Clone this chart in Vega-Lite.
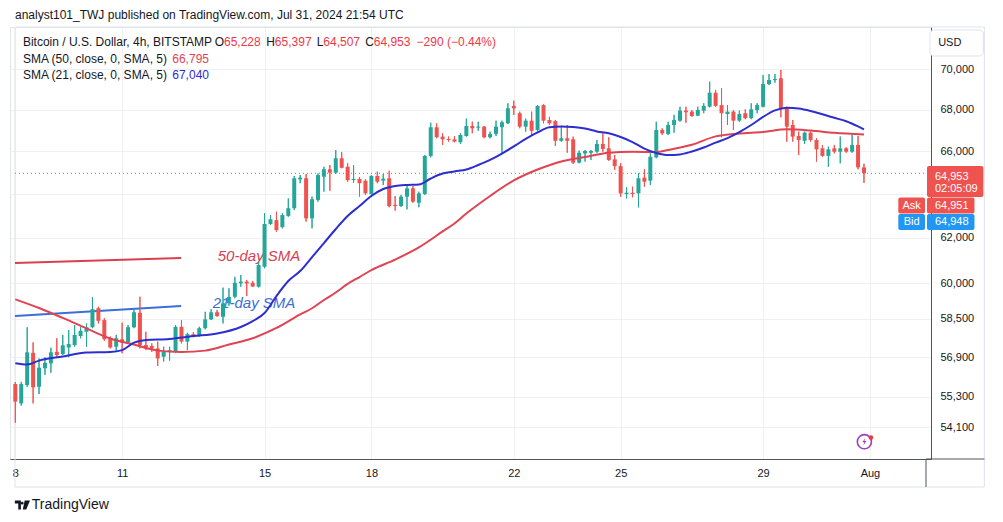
{
"$schema": "https://vega.github.io/schema/vega-lite/v6.json",
"width": 921, "height": 432,
"autosize": {"type": "none"},
"padding": {"left": 10, "top": 27, "right": 72, "bottom": 63},
"background": "#ffffff",
"config": {"view": {"stroke": "#e0e3eb"}, "font": "Liberation Sans", "text": {"font": "Liberation Sans"}},
"datasets": {
"one": [{}],
"candles": [
{"t":"2024-07-08T00:00Z","o":55810,"h":55890,"l":54280,"c":55110},
{"t":"2024-07-08T04:00Z","o":55040,"h":55900,"l":54950,"c":55810},
{"t":"2024-07-08T08:00Z","o":55770,"h":58140,"l":55700,"c":57100},
{"t":"2024-07-08T12:00Z","o":57080,"h":57510,"l":55040,"c":55680},
{"t":"2024-07-08T16:00Z","o":55700,"h":56850,"l":55410,"c":56470},
{"t":"2024-07-08T20:00Z","o":56450,"h":56900,"l":56180,"c":56670},
{"t":"2024-07-09T00:00Z","o":56650,"h":57290,"l":56270,"c":57100},
{"t":"2024-07-09T04:00Z","o":57120,"h":57680,"l":56920,"c":56990},
{"t":"2024-07-09T08:00Z","o":57030,"h":57820,"l":56990,"c":57390},
{"t":"2024-07-09T12:00Z","o":57300,"h":58020,"l":56900,"c":57440},
{"t":"2024-07-09T16:00Z","o":57400,"h":58230,"l":57330,"c":57820},
{"t":"2024-07-09T20:00Z","o":57770,"h":58140,"l":57680,"c":57990},
{"t":"2024-07-10T00:00Z","o":57950,"h":58300,"l":57330,"c":58140},
{"t":"2024-07-10T04:00Z","o":58140,"h":59410,"l":58100,"c":58900},
{"t":"2024-07-10T08:00Z","o":58940,"h":59000,"l":58300,"c":58410},
{"t":"2024-07-10T12:00Z","o":58440,"h":58520,"l":57580,"c":57640},
{"t":"2024-07-10T16:00Z","o":57680,"h":57750,"l":57260,"c":57300},
{"t":"2024-07-10T20:00Z","o":57330,"h":57820,"l":57120,"c":57680},
{"t":"2024-07-11T00:00Z","o":57640,"h":58330,"l":57060,"c":57500},
{"t":"2024-07-11T04:00Z","o":57510,"h":58230,"l":57470,"c":58140},
{"t":"2024-07-11T08:00Z","o":58140,"h":58870,"l":58100,"c":58770},
{"t":"2024-07-11T12:00Z","o":58750,"h":59430,"l":57260,"c":57400},
{"t":"2024-07-11T16:00Z","o":57400,"h":57950,"l":57190,"c":57260},
{"t":"2024-07-11T20:00Z","o":57360,"h":57470,"l":57120,"c":57260},
{"t":"2024-07-12T00:00Z","o":57260,"h":57540,"l":56540,"c":56850},
{"t":"2024-07-12T04:00Z","o":56920,"h":57330,"l":56720,"c":57120},
{"t":"2024-07-12T08:00Z","o":57120,"h":57330,"l":56760,"c":57190},
{"t":"2024-07-12T12:00Z","o":57120,"h":58230,"l":57080,"c":58160},
{"t":"2024-07-12T16:00Z","o":58160,"h":58440,"l":57470,"c":57540},
{"t":"2024-07-12T20:00Z","o":57540,"h":57910,"l":57190,"c":57850},
{"t":"2024-07-13T00:00Z","o":57850,"h":57930,"l":57720,"c":57750},
{"t":"2024-07-13T04:00Z","o":57770,"h":58160,"l":57750,"c":58100},
{"t":"2024-07-13T08:00Z","o":58100,"h":58790,"l":58050,"c":58470},
{"t":"2024-07-13T12:00Z","o":58470,"h":58900,"l":58440,"c":58770},
{"t":"2024-07-13T16:00Z","o":58770,"h":58870,"l":58580,"c":58610},
{"t":"2024-07-13T20:00Z","o":58580,"h":59820,"l":58300,"c":59150},
{"t":"2024-07-14T00:00Z","o":59150,"h":59790,"l":59040,"c":59420},
{"t":"2024-07-14T04:00Z","o":59430,"h":60290,"l":59360,"c":60030},
{"t":"2024-07-14T08:00Z","o":60010,"h":60370,"l":59860,"c":60080},
{"t":"2024-07-14T12:00Z","o":60080,"h":60150,"l":59460,"c":60000},
{"t":"2024-07-14T16:00Z","o":60030,"h":60110,"l":59850,"c":59870},
{"t":"2024-07-14T20:00Z","o":59860,"h":60950,"l":59830,"c":60800},
{"t":"2024-07-15T00:00Z","o":60730,"h":63110,"l":60660,"c":62620},
{"t":"2024-07-15T04:00Z","o":62620,"h":63030,"l":62580,"c":62840},
{"t":"2024-07-15T08:00Z","o":62800,"h":63180,"l":62280,"c":62350},
{"t":"2024-07-15T12:00Z","o":62480,"h":63110,"l":62430,"c":63030},
{"t":"2024-07-15T16:00Z","o":62990,"h":63790,"l":62950,"c":63340},
{"t":"2024-07-15T20:00Z","o":63340,"h":64830,"l":63260,"c":64720},
{"t":"2024-07-16T00:00Z","o":64670,"h":64870,"l":64490,"c":64750},
{"t":"2024-07-16T04:00Z","o":64720,"h":64920,"l":62730,"c":62880},
{"t":"2024-07-16T08:00Z","o":62880,"h":63870,"l":62430,"c":63750},
{"t":"2024-07-16T12:00Z","o":63720,"h":64950,"l":63640,"c":64870},
{"t":"2024-07-16T16:00Z","o":64790,"h":65260,"l":64100,"c":65140},
{"t":"2024-07-16T20:00Z","o":65140,"h":65340,"l":64140,"c":64980},
{"t":"2024-07-17T00:00Z","o":64980,"h":66050,"l":64920,"c":65660},
{"t":"2024-07-17T04:00Z","o":65660,"h":65940,"l":65190,"c":65210},
{"t":"2024-07-17T08:00Z","o":65260,"h":65420,"l":64560,"c":64640},
{"t":"2024-07-17T12:00Z","o":64640,"h":65340,"l":64510,"c":64690},
{"t":"2024-07-17T16:00Z","o":64690,"h":64770,"l":63870,"c":64490},
{"t":"2024-07-17T20:00Z","o":64610,"h":64670,"l":63950,"c":64020},
{"t":"2024-07-18T00:00Z","o":63990,"h":64870,"l":63950,"c":64830},
{"t":"2024-07-18T04:00Z","o":64830,"h":65030,"l":64490,"c":64560},
{"t":"2024-07-18T08:00Z","o":64610,"h":64920,"l":64410,"c":64700},
{"t":"2024-07-18T12:00Z","o":64720,"h":65070,"l":63380,"c":63440},
{"t":"2024-07-18T16:00Z","o":63490,"h":63900,"l":63230,"c":63440},
{"t":"2024-07-18T20:00Z","o":63440,"h":63950,"l":63400,"c":63870},
{"t":"2024-07-19T00:00Z","o":63870,"h":64360,"l":63290,"c":64250},
{"t":"2024-07-19T04:00Z","o":64250,"h":64360,"l":63590,"c":63640},
{"t":"2024-07-19T08:00Z","o":63590,"h":64100,"l":63380,"c":64020},
{"t":"2024-07-19T12:00Z","o":63990,"h":65810,"l":63950,"c":65770},
{"t":"2024-07-19T16:00Z","o":65770,"h":67360,"l":65700,"c":67140},
{"t":"2024-07-19T20:00Z","o":67140,"h":67330,"l":66610,"c":66660},
{"t":"2024-07-20T00:00Z","o":66690,"h":66850,"l":66290,"c":66560},
{"t":"2024-07-20T04:00Z","o":66580,"h":66690,"l":66450,"c":66530},
{"t":"2024-07-20T08:00Z","o":66560,"h":66720,"l":66420,"c":66450},
{"t":"2024-07-20T12:00Z","o":66420,"h":66850,"l":66340,"c":66770},
{"t":"2024-07-20T16:00Z","o":66720,"h":67560,"l":66690,"c":67200},
{"t":"2024-07-20T20:00Z","o":67200,"h":67410,"l":66850,"c":67090},
{"t":"2024-07-21T00:00Z","o":67120,"h":67410,"l":66970,"c":67170},
{"t":"2024-07-21T04:00Z","o":67170,"h":67200,"l":66610,"c":66660},
{"t":"2024-07-21T08:00Z","o":66660,"h":66930,"l":66610,"c":66820},
{"t":"2024-07-21T12:00Z","o":66820,"h":67460,"l":66720,"c":67170},
{"t":"2024-07-21T16:00Z","o":67140,"h":67460,"l":65860,"c":67380},
{"t":"2024-07-21T20:00Z","o":67330,"h":68310,"l":67300,"c":68060},
{"t":"2024-07-22T00:00Z","o":68180,"h":68440,"l":67740,"c":68060},
{"t":"2024-07-22T04:00Z","o":67820,"h":67900,"l":67090,"c":67170},
{"t":"2024-07-22T08:00Z","o":67170,"h":67560,"l":66930,"c":67460},
{"t":"2024-07-22T12:00Z","o":67460,"h":67900,"l":66770,"c":66970},
{"t":"2024-07-22T16:00Z","o":67010,"h":68220,"l":66930,"c":68180},
{"t":"2024-07-22T20:00Z","o":68220,"h":68260,"l":67330,"c":67460},
{"t":"2024-07-23T00:00Z","o":67490,"h":67650,"l":67250,"c":67330},
{"t":"2024-07-23T04:00Z","o":67440,"h":67490,"l":66240,"c":66490},
{"t":"2024-07-23T08:00Z","o":66490,"h":67170,"l":66450,"c":66610},
{"t":"2024-07-23T12:00Z","o":66610,"h":67250,"l":65920,"c":66490},
{"t":"2024-07-23T16:00Z","o":66560,"h":66690,"l":65390,"c":65450},
{"t":"2024-07-23T20:00Z","o":65450,"h":66020,"l":65420,"c":65920},
{"t":"2024-07-24T00:00Z","o":65890,"h":66050,"l":65500,"c":66000},
{"t":"2024-07-24T04:00Z","o":65920,"h":66050,"l":65580,"c":66000},
{"t":"2024-07-24T08:00Z","o":65970,"h":66530,"l":65920,"c":66340},
{"t":"2024-07-24T12:00Z","o":66340,"h":66850,"l":65970,"c":66100},
{"t":"2024-07-24T16:00Z","o":66130,"h":66660,"l":65540,"c":65580},
{"t":"2024-07-24T20:00Z","o":65610,"h":65810,"l":65110,"c":65290},
{"t":"2024-07-25T00:00Z","o":65290,"h":65420,"l":63870,"c":64020},
{"t":"2024-07-25T04:00Z","o":63990,"h":64300,"l":63790,"c":64050},
{"t":"2024-07-25T08:00Z","o":64050,"h":64330,"l":63840,"c":63990},
{"t":"2024-07-25T12:00Z","o":64020,"h":64950,"l":63380,"c":64720},
{"t":"2024-07-25T16:00Z","o":64750,"h":65140,"l":64330,"c":64560},
{"t":"2024-07-25T20:00Z","o":64610,"h":65890,"l":64410,"c":65730},
{"t":"2024-07-26T00:00Z","o":65700,"h":67410,"l":65660,"c":67010},
{"t":"2024-07-26T04:00Z","o":67010,"h":67090,"l":66770,"c":66850},
{"t":"2024-07-26T08:00Z","o":66820,"h":67410,"l":66770,"c":67250},
{"t":"2024-07-26T12:00Z","o":67250,"h":67740,"l":66880,"c":67490},
{"t":"2024-07-26T16:00Z","o":67460,"h":68140,"l":67410,"c":67950},
{"t":"2024-07-26T20:00Z","o":67950,"h":68140,"l":67360,"c":67870},
{"t":"2024-07-27T00:00Z","o":67900,"h":67980,"l":67650,"c":67690},
{"t":"2024-07-27T04:00Z","o":67700,"h":68140,"l":67690,"c":67980},
{"t":"2024-07-27T08:00Z","o":67950,"h":68310,"l":67820,"c":68180},
{"t":"2024-07-27T12:00Z","o":68140,"h":69380,"l":68110,"c":68830},
{"t":"2024-07-27T16:00Z","o":68830,"h":68970,"l":68140,"c":68180},
{"t":"2024-07-27T20:00Z","o":68220,"h":69050,"l":66660,"c":67820},
{"t":"2024-07-28T00:00Z","o":67780,"h":68220,"l":67250,"c":67900},
{"t":"2024-07-28T04:00Z","o":67900,"h":67980,"l":67010,"c":67460},
{"t":"2024-07-28T08:00Z","o":67460,"h":67950,"l":67410,"c":67780},
{"t":"2024-07-28T12:00Z","o":67820,"h":68010,"l":67530,"c":67580},
{"t":"2024-07-28T16:00Z","o":67580,"h":68310,"l":67530,"c":68010},
{"t":"2024-07-28T20:00Z","o":67980,"h":68310,"l":67820,"c":68220},
{"t":"2024-07-29T00:00Z","o":68140,"h":69710,"l":68110,"c":69260},
{"t":"2024-07-29T04:00Z","o":69260,"h":69760,"l":69210,"c":69460},
{"t":"2024-07-29T08:00Z","o":69460,"h":69760,"l":69330,"c":69510},
{"t":"2024-07-29T12:00Z","o":69550,"h":69970,"l":67620,"c":68060},
{"t":"2024-07-29T16:00Z","o":68060,"h":68140,"l":66450,"c":67170},
{"t":"2024-07-29T20:00Z","o":67250,"h":67490,"l":66450,"c":66690},
{"t":"2024-07-30T00:00Z","o":66720,"h":66930,"l":65810,"c":66530},
{"t":"2024-07-30T04:00Z","o":66490,"h":66930,"l":66340,"c":66880},
{"t":"2024-07-30T08:00Z","o":66880,"h":66930,"l":66450,"c":66530},
{"t":"2024-07-30T12:00Z","o":66530,"h":66610,"l":65500,"c":66080},
{"t":"2024-07-30T16:00Z","o":66130,"h":66290,"l":65730,"c":65770},
{"t":"2024-07-30T20:00Z","o":65770,"h":66210,"l":65260,"c":66080},
{"t":"2024-07-31T00:00Z","o":66130,"h":66290,"l":65890,"c":65970},
{"t":"2024-07-31T04:00Z","o":65970,"h":66690,"l":65420,"c":66130},
{"t":"2024-07-31T08:00Z","o":66130,"h":66180,"l":65920,"c":65970},
{"t":"2024-07-31T12:00Z","o":65970,"h":66770,"l":65920,"c":66290},
{"t":"2024-07-31T16:00Z","o":66290,"h":66720,"l":65140,"c":65230},
{"t":"2024-07-31T20:00Z","o":65228,"h":65397,"l":64507,"c":64953}
],
"sma21": [
{"t":"2024-07-08T00:00Z","v":56650},{"t":"2024-07-08T08:00Z","v":56600},{"t":"2024-07-08T16:00Z","v":56760},
{"t":"2024-07-09T08:00Z","v":56930},{"t":"2024-07-10T00:00Z","v":57090},{"t":"2024-07-10T16:00Z","v":57110},
{"t":"2024-07-11T00:00Z","v":57190},{"t":"2024-07-11T08:00Z","v":57500},{"t":"2024-07-11T16:00Z","v":57610},
{"t":"2024-07-12T08:00Z","v":57650},{"t":"2024-07-13T00:00Z","v":57770},{"t":"2024-07-13T16:00Z","v":57880},
{"t":"2024-07-14T08:00Z","v":58150},{"t":"2024-07-14T16:00Z","v":58400},{"t":"2024-07-15T00:00Z","v":58740},
{"t":"2024-07-15T08:00Z","v":59460},{"t":"2024-07-15T16:00Z","v":60110},{"t":"2024-07-16T00:00Z","v":60540},
{"t":"2024-07-16T08:00Z","v":61150},{"t":"2024-07-16T16:00Z","v":61770},{"t":"2024-07-17T00:00Z","v":62400},
{"t":"2024-07-17T08:00Z","v":62990},{"t":"2024-07-17T16:00Z","v":63440},{"t":"2024-07-18T00:00Z","v":63900},
{"t":"2024-07-18T08:00Z","v":64220},{"t":"2024-07-18T16:00Z","v":64360},{"t":"2024-07-19T00:00Z","v":64410},
{"t":"2024-07-19T08:00Z","v":64430},{"t":"2024-07-19T16:00Z","v":64710},{"t":"2024-07-20T00:00Z","v":64940},
{"t":"2024-07-20T08:00Z","v":65040},{"t":"2024-07-20T16:00Z","v":65130},{"t":"2024-07-21T00:00Z","v":65340},
{"t":"2024-07-21T08:00Z","v":65580},{"t":"2024-07-21T16:00Z","v":65880},{"t":"2024-07-22T00:00Z","v":66220},
{"t":"2024-07-22T08:00Z","v":66580},{"t":"2024-07-22T16:00Z","v":66890},{"t":"2024-07-23T00:00Z","v":67140},
{"t":"2024-07-23T08:00Z","v":67180},{"t":"2024-07-23T16:00Z","v":67150},{"t":"2024-07-24T00:00Z","v":67080},
{"t":"2024-07-24T08:00Z","v":66940},{"t":"2024-07-24T16:00Z","v":66850},{"t":"2024-07-25T00:00Z","v":66670},
{"t":"2024-07-25T08:00Z","v":66430},{"t":"2024-07-25T16:00Z","v":66120},{"t":"2024-07-26T00:00Z","v":65910},
{"t":"2024-07-26T08:00Z","v":65810},{"t":"2024-07-26T16:00Z","v":65840},{"t":"2024-07-27T00:00Z","v":65980},
{"t":"2024-07-27T08:00Z","v":66170},{"t":"2024-07-27T16:00Z","v":66400},{"t":"2024-07-28T00:00Z","v":66620},
{"t":"2024-07-28T08:00Z","v":66910},{"t":"2024-07-28T16:00Z","v":67250},{"t":"2024-07-29T00:00Z","v":67640},
{"t":"2024-07-29T08:00Z","v":67960},{"t":"2024-07-29T16:00Z","v":68090},{"t":"2024-07-30T00:00Z","v":68050},
{"t":"2024-07-30T08:00Z","v":67930},{"t":"2024-07-30T16:00Z","v":67770},{"t":"2024-07-31T00:00Z","v":67600},
{"t":"2024-07-31T08:00Z","v":67430},{"t":"2024-07-31T16:00Z","v":67180},{"t":"2024-07-31T20:00Z","v":67040}
],
"sma50": [
{"t":"2024-07-08T00:00Z","v":59320},{"t":"2024-07-08T16:00Z","v":58950},{"t":"2024-07-09T08:00Z","v":58530},
{"t":"2024-07-10T00:00Z","v":58090},{"t":"2024-07-10T16:00Z","v":57670},{"t":"2024-07-11T08:00Z","v":57420},
{"t":"2024-07-12T00:00Z","v":57170},{"t":"2024-07-12T16:00Z","v":57110},{"t":"2024-07-13T08:00Z","v":57170},
{"t":"2024-07-14T00:00Z","v":57420},{"t":"2024-07-14T16:00Z","v":57680},{"t":"2024-07-15T08:00Z","v":58110},
{"t":"2024-07-16T00:00Z","v":58680},{"t":"2024-07-16T08:00Z","v":58940},{"t":"2024-07-16T16:00Z","v":59290},
{"t":"2024-07-17T00:00Z","v":59610},{"t":"2024-07-17T08:00Z","v":59980},{"t":"2024-07-17T16:00Z","v":60280},
{"t":"2024-07-18T00:00Z","v":60580},{"t":"2024-07-18T16:00Z","v":61040},{"t":"2024-07-19T08:00Z","v":61580},
{"t":"2024-07-20T00:00Z","v":62290},{"t":"2024-07-20T08:00Z","v":62650},{"t":"2024-07-20T16:00Z","v":63100},
{"t":"2024-07-21T00:00Z","v":63510},{"t":"2024-07-21T08:00Z","v":63900},{"t":"2024-07-22T00:00Z","v":64620},
{"t":"2024-07-22T16:00Z","v":65130},{"t":"2024-07-23T08:00Z","v":65510},{"t":"2024-07-24T00:00Z","v":65720},
{"t":"2024-07-24T16:00Z","v":65920},{"t":"2024-07-25T08:00Z","v":65970},{"t":"2024-07-26T00:00Z","v":65950},
{"t":"2024-07-26T08:00Z","v":66050},{"t":"2024-07-27T00:00Z","v":66300},{"t":"2024-07-27T16:00Z","v":66700},
{"t":"2024-07-28T08:00Z","v":66840},{"t":"2024-07-29T00:00Z","v":66910},{"t":"2024-07-29T16:00Z","v":67040},
{"t":"2024-07-30T08:00Z","v":66980},{"t":"2024-07-31T00:00Z","v":66870},{"t":"2024-07-31T20:00Z","v":66795}
],
"line50": [{"t":"2024-07-07T23:48Z","p":60890},{"t":"2024-07-12T15:48Z","p":61110}],
"line21": [{"t":"2024-07-07T23:48Z","p":58610},{"t":"2024-07-12T15:48Z","p":59035}]
},
"layer": [
{"data": {"name": "one"}, "mark": {"type": "rect", "fillOpacity": 0, "stroke": "#e0e3eb", "strokeWidth": 1},
 "encoding": {"x": {"datum": 1720396080000, "type": "temporal"}, "x2": {"datum": 1722748080000}, "y": {"datum": 72164}, "y2": {"datum": 51823}}},
{"data": {"name": "candles"}, "mark": {"type": "rule", "strokeWidth": 1},
 "encoding": {
  "x": {"field": "t", "type": "temporal",
   "scale": {"type": "utc", "domain": [1720396080000, 1722606480000], "nice": false},
   "axis": {"values": [1720396800000, 1720656000000, 1721001600000, 1721260800000, 1721606400000, 1721865600000, 1722211200000, 1722470400000],
    "labelExpr": "utcdate(datum.value) == 1 ? 'Aug' : '' + utcdate(datum.value)",
    "title": null, "grid": true, "gridColor": "#eef0f4", "domainColor": "#50535e", "ticks": false, "tickSize": 0,
    "labelPadding": 8, "labelFontSize": 11, "labelColor": "#131722", "labelFont": "Liberation Sans", "labelOverlap": false, "labelFlush": false}},
  "y": {"field": "l", "type": "quantitative",
   "scale": {"type": "log", "domain": [52880, 72164], "nice": false, "zero": false},
   "axis": {"orient": "right", "values": [54100, 55300, 56900, 58500, 60000, 62000, 64000, 66000, 68000, 70000],
    "labelExpr": "datum.value == 64000 ? '' : format(datum.value, ',')",
    "title": null, "grid": true, "gridColor": "#eef0f4", "domainColor": "#50535e", "ticks": false, "tickSize": 0,
    "labelPadding": 9, "labelFontSize": 11, "labelColor": "#131722", "labelFont": "Liberation Sans", "labelAlign": "left", "labelOverlap": false}},
  "y2": {"field": "h"},
  "color": {"condition": {"test": "datum.c >= datum.o", "value": "#26a69a"}, "value": "#ef5350"}}},
{"data": {"name": "one"}, "mark": {"type": "rule", "color": "#ef5350", "strokeDash": [1, 3], "strokeWidth": 1},
 "encoding": {"x": {"datum": 1720396080000, "type": "temporal"}, "x2": {"datum": 1722606480000}, "y": {"datum": 64953}}},
{"data": {"name": "line50"}, "mark": {"type": "line", "color": "#d8404f", "strokeWidth": 2},
 "encoding": {"x": {"field": "t", "type": "temporal"}, "y": {"field": "p", "type": "quantitative"}}},
{"data": {"name": "line21"}, "mark": {"type": "line", "color": "#3a6fd9", "strokeWidth": 2},
 "encoding": {"x": {"field": "t", "type": "temporal"}, "y": {"field": "p", "type": "quantitative"}}},
{"data": {"name": "one"}, "mark": {"type": "text", "text": "50-day SMA", "align": "left", "baseline": "middle", "fontSize": 15, "fontStyle": "italic", "color": "#d8404f"},
 "encoding": {"x": {"datum": 1720888080000, "type": "temporal"}, "y": {"datum": 61198}}},
{"data": {"name": "one"}, "mark": {"type": "text", "text": "21-day SMA", "align": "left", "baseline": "middle", "fontSize": 15, "fontStyle": "italic", "color": "#3a6fd9"},
 "encoding": {"x": {"datum": 1720876080000, "type": "temporal"}, "y": {"datum": 59163}}},
{"data": {"name": "candles"}, "mark": {"type": "rule", "strokeWidth": 1},
 "encoding": {"x": {"field": "t", "type": "temporal"}, "y": {"field": "l", "type": "quantitative"}, "y2": {"field": "h"},
  "color": {"condition": {"test": "datum.c >= datum.o", "value": "#26a69a"}, "value": "#ef5350"}}},
{"data": {"name": "candles"}, "mark": {"type": "bar", "width": 4},
 "encoding": {"x": {"field": "t", "type": "temporal"}, "y": {"field": "o", "type": "quantitative"}, "y2": {"field": "c"},
  "color": {"condition": {"test": "datum.c >= datum.o", "value": "#26a69a"}, "value": "#ef5350"}}},
{"data": {"name": "sma50"}, "mark": {"type": "line", "color": "#e04352", "strokeWidth": 2, "interpolate": "monotone"},
 "encoding": {"x": {"field": "t", "type": "temporal"}, "y": {"field": "v", "type": "quantitative"}}},
{"data": {"name": "sma21"}, "mark": {"type": "line", "color": "#2e2ecf", "strokeWidth": 2, "interpolate": "monotone"},
 "encoding": {"x": {"field": "t", "type": "temporal"}, "y": {"field": "v", "type": "quantitative"}}},
{"data": {"name": "one"}, "mark": {"type": "text", "text": "analyst101_TWJ published on TradingView.com, Jul 31, 2024 21:54 UTC", "align": "left", "baseline": "middle", "fontSize": 12, "color": "#131722"},
 "encoding": {"x": {"datum": 1720396080000, "type": "temporal"}, "y": {"datum": 72790}}},
{"data": {"name": "one"}, "mark": {"type": "text", "text": "Bitcoin / U.S. Dollar, 4h, BITSTAMP", "align": "left", "baseline": "middle", "fontSize": 12, "color": "#131722"},
 "encoding": {"x": {"datum": 1720415280000, "type": "temporal"}, "y": {"datum": 71389}}},
{"data": {"name": "one"}, "mark": {"type": "text", "text": "O", "align": "left", "baseline": "middle", "fontSize": 12, "color": "#131722"},
 "encoding": {"x": {"datum": 1720880880000, "type": "temporal"}, "y": {"datum": 71389}}},
{"data": {"name": "one"}, "mark": {"type": "text", "text": "65,228", "align": "left", "baseline": "middle", "fontSize": 12, "color": "#f23645"},
 "encoding": {"x": {"datum": 1720903200000, "type": "temporal"}, "y": {"datum": 71389}}},
{"data": {"name": "one"}, "mark": {"type": "text", "text": "H", "align": "left", "baseline": "middle", "fontSize": 12, "color": "#131722"},
 "encoding": {"x": {"datum": 1721005680000, "type": "temporal"}, "y": {"datum": 71389}}},
{"data": {"name": "one"}, "mark": {"type": "text", "text": "65,397", "align": "left", "baseline": "middle", "fontSize": 12, "color": "#f23645"},
 "encoding": {"x": {"datum": 1721026560000, "type": "temporal"}, "y": {"datum": 71389}}},
{"data": {"name": "one"}, "mark": {"type": "text", "text": "L", "align": "left", "baseline": "middle", "fontSize": 12, "color": "#131722"},
 "encoding": {"x": {"datum": 1721128080000, "type": "temporal"}, "y": {"datum": 71389}}},
{"data": {"name": "one"}, "mark": {"type": "text", "text": "64,507", "align": "left", "baseline": "middle", "fontSize": 12, "color": "#f23645"},
 "encoding": {"x": {"datum": 1721144160000, "type": "temporal"}, "y": {"datum": 71389}}},
{"data": {"name": "one"}, "mark": {"type": "text", "text": "C", "align": "left", "baseline": "middle", "fontSize": 12, "color": "#131722"},
 "encoding": {"x": {"datum": 1721245680000, "type": "temporal"}, "y": {"datum": 71389}}},
{"data": {"name": "one"}, "mark": {"type": "text", "text": "64,953", "align": "left", "baseline": "middle", "fontSize": 12, "color": "#f23645"},
 "encoding": {"x": {"datum": 1721266560000, "type": "temporal"}, "y": {"datum": 71389}}},
{"data": {"name": "one"}, "mark": {"type": "text", "text": "−290 (−0.44%)", "align": "left", "baseline": "middle", "fontSize": 12, "color": "#f23645"},
 "encoding": {"x": {"datum": 1721370480000, "type": "temporal"}, "y": {"datum": 71389}}},
{"data": {"name": "one"}, "mark": {"type": "text", "text": "SMA (50, close, 0, SMA, 5)", "align": "left", "baseline": "middle", "fontSize": 12, "color": "#131722"},
 "encoding": {"x": {"datum": 1720415280000, "type": "temporal"}, "y": {"datum": 70521}}},
{"data": {"name": "one"}, "mark": {"type": "text", "text": "66,795", "align": "left", "baseline": "middle", "fontSize": 12, "color": "#e04352"},
 "encoding": {"x": {"datum": 1720777680000, "type": "temporal"}, "y": {"datum": 70521}}},
{"data": {"name": "one"}, "mark": {"type": "text", "text": "SMA (21, close, 0, SMA, 5)", "align": "left", "baseline": "middle", "fontSize": 12, "color": "#131722"},
 "encoding": {"x": {"datum": 1720415280000, "type": "temporal"}, "y": {"datum": 69713}}},
{"data": {"name": "one"}, "mark": {"type": "text", "text": "67,040", "align": "left", "baseline": "middle", "fontSize": 12, "color": "#2e2ecf"},
 "encoding": {"x": {"datum": 1720777680000, "type": "temporal"}, "y": {"datum": 69713}}},
{"data": {"name": "one"}, "mark": {"type": "rect", "color": "#ef5350", "cornerRadius": 2},
 "encoding": {"x": {"datum": 1722608880000, "type": "temporal"}, "x2": {"datum": 1722745680000}, "y": {"datum": 65294}, "y2": {"datum": 63853}}},
{"data": {"name": "one"}, "mark": {"type": "rect", "color": "#ef5350", "cornerRadius": 2},
 "encoding": {"x": {"datum": 1722539280000, "type": "temporal"}, "x2": {"datum": 1722604080000}, "y": {"datum": 63830}, "y2": {"datum": 63099}}},
{"data": {"name": "one"}, "mark": {"type": "rect", "color": "#ef5350", "cornerRadius": 2},
 "encoding": {"x": {"datum": 1722608880000, "type": "temporal"}, "x2": {"datum": 1722724080000}, "y": {"datum": 63830}, "y2": {"datum": 63099}}},
{"data": {"name": "one"}, "mark": {"type": "rect", "color": "#2196f3", "cornerRadius": 2},
 "encoding": {"x": {"datum": 1722539280000, "type": "temporal"}, "x2": {"datum": 1722604080000}, "y": {"datum": 63076}, "y2": {"datum": 62354}}},
{"data": {"name": "one"}, "mark": {"type": "rect", "color": "#2196f3", "cornerRadius": 2},
 "encoding": {"x": {"datum": 1722608880000, "type": "temporal"}, "x2": {"datum": 1722724080000}, "y": {"datum": 63076}, "y2": {"datum": 62354}}},
{"data": {"name": "one"}, "mark": {"type": "text", "text": "64,953", "align": "left", "baseline": "middle", "fontSize": 11, "color": "#ffffff"},
 "encoding": {"x": {"datum": 1722628080000, "type": "temporal"}, "y": {"datum": 64802}}},
{"data": {"name": "one"}, "mark": {"type": "text", "text": "02:05:09", "align": "left", "baseline": "middle", "fontSize": 11, "color": "#ffffff"},
 "encoding": {"x": {"datum": 1722628080000, "type": "temporal"}, "y": {"datum": 64245}}},
{"data": {"name": "one"}, "mark": {"type": "text", "text": "64,951", "align": "left", "baseline": "middle", "fontSize": 11, "color": "#ffffff"},
 "encoding": {"x": {"datum": 1722628080000, "type": "temporal"}, "y": {"datum": 63463}}},
{"data": {"name": "one"}, "mark": {"type": "text", "text": "64,948", "align": "left", "baseline": "middle", "fontSize": 11, "color": "#ffffff"},
 "encoding": {"x": {"datum": 1722628080000, "type": "temporal"}, "y": {"datum": 62714}}},
{"data": {"name": "one"}, "mark": {"type": "text", "text": "Ask", "align": "center", "baseline": "middle", "fontSize": 11, "color": "#ffffff"},
 "encoding": {"x": {"datum": 1722571680000, "type": "temporal"}, "y": {"datum": 63463}}},
{"data": {"name": "one"}, "mark": {"type": "text", "text": "Bid", "align": "center", "baseline": "middle", "fontSize": 11, "color": "#ffffff"},
 "encoding": {"x": {"datum": 1722571680000, "type": "temporal"}, "y": {"datum": 62714}}},
{"data": {"name": "one"}, "mark": {"type": "rect", "fill": "#ffffff", "stroke": "#e0e3eb", "strokeWidth": 1, "cornerRadius": 4},
 "encoding": {"x": {"datum": 1722616080000, "type": "temporal"}, "x2": {"datum": 1722745680000}, "y": {"datum": 72008}, "y2": {"datum": 70673}}},
{"data": {"name": "one"}, "mark": {"type": "text", "text": "USD", "align": "center", "baseline": "middle", "fontSize": 11, "color": "#131722"},
 "encoding": {"x": {"datum": 1722664080000, "type": "temporal"}, "y": {"datum": 71338}}},
{"data": {"name": "one"}, "mark": {"type": "point", "shape": "circle", "filled": false, "stroke": "#9c3fc8", "strokeWidth": 1.6, "size": 200, "opacity": 1},
 "encoding": {"x": {"datum": 1722456960000, "type": "temporal"}, "y": {"datum": 53541}}},
{"data": {"name": "one"}, "mark": {"type": "point", "shape": "M 0.25 -0.9 L -0.5 0.15 L 0 0.15 L -0.25 0.9 L 0.5 -0.15 L 0 -0.15 Z", "filled": true, "color": "#9c3fc8", "size": 70, "opacity": 1},
 "encoding": {"x": {"datum": 1722456960000, "type": "temporal"}, "y": {"datum": 53541}}},
{"data": {"name": "one"}, "mark": {"type": "point", "shape": "circle", "filled": true, "color": "#f23645", "size": 22, "opacity": 1},
 "encoding": {"x": {"datum": 1722472800000, "type": "temporal"}, "y": {"datum": 53703}}},
{"data": {"name": "one"}, "mark": {"type": "rule", "color": "#50535e", "strokeWidth": 1},
 "encoding": {"x": {"datum": 1722606480000, "type": "temporal"}, "y": {"datum": 52880}, "y2": {"datum": 51823}}},
{"data": {"name": "one"}, "mark": {"type": "rule", "color": "#50535e", "strokeWidth": 1},
 "encoding": {"x": {"datum": 1722606480000, "type": "temporal"}, "x2": {"datum": 1722748080000}, "y": {"datum": 52880}}},
{"data": {"name": "one"}, "mark": {"type": "point", "shape": "M -1 -0.6 L -0.2 -0.6 L -0.2 0.6 L -0.55 0.6 L -0.55 -0.2 L -1 -0.2 Z M 0.3 -0.6 L 1 -0.6 L 0.5 0.6 L 0.05 0.6 Z M -0.02 -0.42 A 0.18 0.18 0 1 1 -0.0201 -0.42 Z", "filled": true, "color": "#131722", "size": 230, "opacity": 1},
 "encoding": {"x": {"datum": 1720414080000, "type": "temporal"}, "y": {"datum": 51158}}},
{"data": {"name": "one"}, "mark": {"type": "text", "text": "TradingView", "align": "left", "baseline": "middle", "fontSize": 14, "color": "#131722"},
 "encoding": {"x": {"datum": 1720436880000, "type": "temporal"}, "y": {"datum": 51158}}}
]
}
